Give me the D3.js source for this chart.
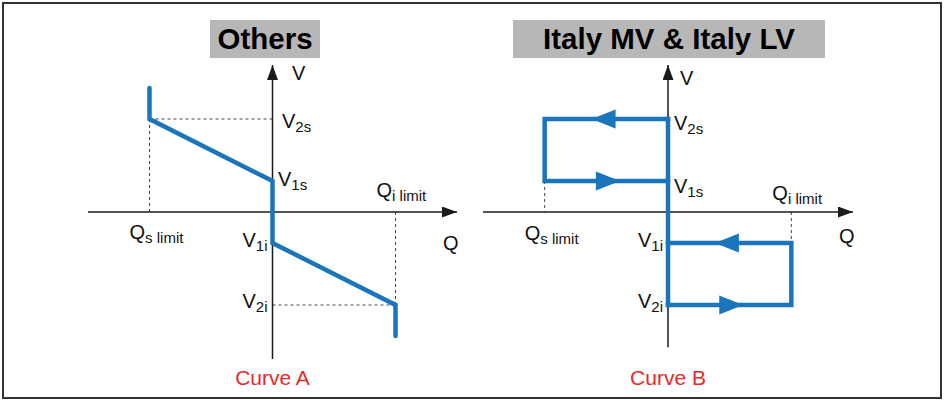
<!DOCTYPE html>
<html>
<head>
<meta charset="utf-8">
<script src="https://cdn.jsdelivr.net/npm/d3@7"></script>
<style>
  html, body { margin: 0; padding: 0; background: #fff; }
  svg { display: block; font-family: "Liberation Sans", Arial, sans-serif; }
</style>
</head>
<body>
<svg id="chart" width="944" height="400"></svg>
<script>
// Q-V characteristic curves (reactive power Q vs voltage V), in normalised units.
const panelTitles = ["Others", "Italy MV & Italy LV"];
const curveNames = ["Curve A", "Curve B"];

// Q limits: capacitive (s) and inductive (i)
const limitQ = [-1, 1];
const limitSubs = ["s limit", "i limit"];

// Voltage thresholds V2s, V1s, V1i, V2i
const vLevels = [1.5, 0.5, -0.5, -1.5];
const vSubs = ["2s", "1s", "1i", "2i"];

// Axis extents (Q half-width, V top, V bottom) for each panel
const qAxisHalf = [1.5, 1.5];
const vAxisTop = [2.37, 2.37];
const vAxisBottom = [-2.37, -2.18];

// Curve A: linear droop between V1 and V2, saturated at the Q limits
const curveA = [[-1, 2.0], [-1, 1.5], [0, 0.5], [0, -0.5], [1, -1.5], [1, -2.0]];

// Curve B: hysteresis loops
const curveBSpine = [[0, 1.5], [0, -1.5]];
const curveBUpper = [[0, 1.5], [-1, 1.5], [-1, 0.5], [0, 0.5]];
const curveBLower = [[0, -0.5], [1, -0.5], [1, -1.5], [0, -1.5]];
// arrow tips: [Q, V, direction]
const curveBArrows = [[-0.62, 1.5, -1], [-0.39, 0.5, 1], [0.38, -0.5, -1], [0.61, -1.5, 1]];

const BLUE = "#1b75bb";
const AXIS = "#1a1a1a";
const DASH = "#444";

const svg = d3.select("#chart");

// outer frame
svg.append("rect")
  .attr("x", 3).attr("y", 3).attr("width", 938).attr("height", 395)
  .attr("fill", "none").attr("stroke", "#333").attr("stroke-width", 2);

// arrowheads for axes
const defs = svg.append("defs");
defs.append("marker")
  .attr("id", "axisArrow")
  .attr("viewBox", "0 0 15 11")
  .attr("refX", 15).attr("refY", 5.5)
  .attr("markerWidth", 15).attr("markerHeight", 11)
  .attr("markerUnits", "userSpaceOnUse")
  .attr("orient", "auto")
  .append("path").attr("d", "M0,0 L15,5.5 L0,11 Z").attr("fill", AXIS);

// pixel ranges for each panel
const panels = [
  { xRange: [88, 457], titleBox: [210, 320], labelTweak: { vx: 9.5, v2s: 9, v1s: 5, vLabX: 19.5, vLabY: 80, qiDy: -15, qsDy: 27, qDy: 38 } },
  { xRange: [483, 853], titleBox: [513, 825], labelTweak: { vx: 6, v2s: 11, v1s: 12, vLabX: 12, vLabY: 85, qiDy: -12, qsDy: 28, qDy: 31 } }
];

const y = d3.scaleLinear().domain([-1.5, 1.5]).range([305, 119]);

function subLabel(g, x, yb, main, sub, anchor) {
  const t = g.append("text")
    .attr("x", x).attr("y", yb)
    .attr("fill", "#111")
    .attr("font-size", 20)
    .attr("text-anchor", anchor || "start");
  t.append("tspan").text(main);
  t.append("tspan").attr("font-size", 15).attr("dy", 4).text(sub);
  return t;
}

panels.forEach((p, i) => {
  const x = d3.scaleLinear().domain([-qAxisHalf[i], qAxisHalf[i]]).range(p.xRange);
  const g = svg.append("g");
  const line = d3.line().x(d => x(d[0])).y(d => y(d[1]));
  const tw = p.labelTweak;

  // title box
  g.append("rect")
    .attr("x", p.titleBox[0]).attr("y", 20)
    .attr("width", p.titleBox[1] - p.titleBox[0]).attr("height", 38)
    .attr("fill", "#b7b7b7");
  g.append("text")
    .attr("x", (p.titleBox[0] + p.titleBox[1]) / 2).attr("y", 48.5)
    .attr("text-anchor", "middle")
    .attr("font-size", 29.5).attr("font-weight", "bold")
    .attr("fill", "#000")
    .text(panelTitles[i]);

  // dashed guides
  const guides = i === 0
    ? [[[limitQ[0], vLevels[0]], [limitQ[0], 0]],
       [[limitQ[0], vLevels[0]], [0, vLevels[0]]],
       [[limitQ[1], 0], [limitQ[1], vLevels[3]]],
       [[0, vLevels[3]], [limitQ[1], vLevels[3]]]]
    : [[[limitQ[0], vLevels[1]], [limitQ[0], 0]],
       [[limitQ[1], 0], [limitQ[1], vLevels[2]]]];
  guides.forEach(s => {
    g.append("path").attr("d", line(s))
      .attr("fill", "none").attr("stroke", DASH)
      .attr("stroke-width", 1).attr("stroke-dasharray", "3,3");
  });

  // axes
  g.append("line")
    .attr("x1", x(-qAxisHalf[i])).attr("x2", x(qAxisHalf[i]))
    .attr("y1", y(0)).attr("y2", y(0))
    .attr("stroke", AXIS).attr("stroke-width", 1.5)
    .attr("marker-end", "url(#axisArrow)");
  g.append("line")
    .attr("x1", x(0)).attr("x2", x(0))
    .attr("y1", y(vAxisBottom[i])).attr("y2", y(vAxisTop[i]))
    .attr("stroke", AXIS).attr("stroke-width", 1.5)
    .attr("marker-end", "url(#axisArrow)");

  // curves
  const curves = i === 0 ? [curveA] : [curveBUpper, curveBLower, curveBSpine];
  curves.forEach(c => {
    g.append("path").attr("d", line(c))
      .attr("fill", "none").attr("stroke", BLUE)
      .attr("stroke-width", 4.5)
      .attr("stroke-linejoin", "miter")
      .attr("stroke-linecap", i === 0 ? "round" : "square");
  });

  if (i === 1) {
    curveBArrows.forEach(a => {
      const tx = x(a[0]), ty = y(a[1]), d = a[2];
      const bx = tx - d * 24;
      g.append("path")
        .attr("d", `M${tx},${ty} L${bx},${ty - 9.5} L${bx},${ty + 9.5} Z`)
        .attr("fill", BLUE);
    });
  }

  // axis labels
  g.append("text").attr("x", x(0) + tw.vLabX).attr("y", tw.vLabY)
    .attr("font-size", 20).attr("fill", "#111").text("V");
  g.append("text").attr("x", x(qAxisHalf[i]) - 14).attr("y", y(0) + tw.qDy)
    .attr("font-size", 20).attr("fill", "#111").text("Q");

  // voltage threshold labels
  subLabel(g, x(0) + tw.vx, y(vLevels[0]) + tw.v2s, "V", vSubs[0]);
  subLabel(g, x(0) + tw.vx - (i === 0 ? 4 : 0), y(vLevels[1]) + tw.v1s, "V", vSubs[1]);
  subLabel(g, x(0) - 5, y(vLevels[2]) + 4, "V", vSubs[2], "end");
  subLabel(g, x(0) - 5, y(vLevels[3]) + 3, "V", vSubs[3], "end");

  // Q limit labels
  subLabel(g, x(limitQ[0]) - 20, y(0) + tw.qsDy, "Q", limitSubs[0]);
  subLabel(g, x(limitQ[1]) - 19, y(0) + tw.qiDy, "Q", limitSubs[1]);

  // curve name
  g.append("text")
    .attr("x", x(0)).attr("y", 385)
    .attr("text-anchor", "middle")
    .attr("font-size", 21).attr("fill", "#e8282b")
    .text(curveNames[i]);
});
</script>
</body>
</html>
